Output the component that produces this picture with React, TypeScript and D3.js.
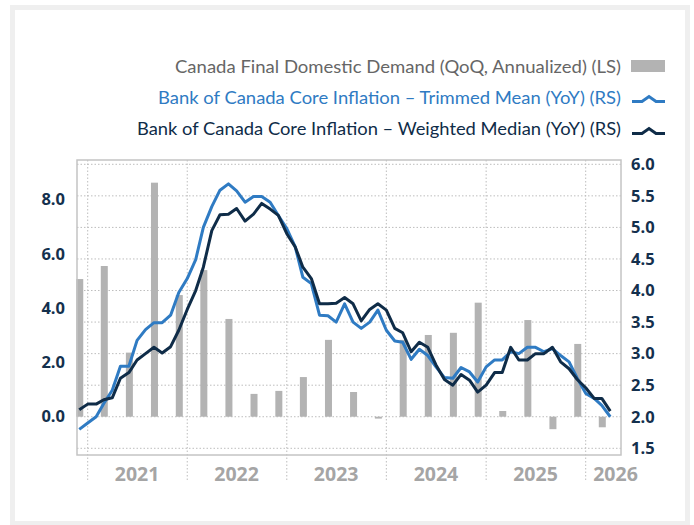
import * as d3 from "d3";

const width = 694;
const height = 525;
const plot = { left: 77, right: 621, top: 160, bottom: 455 };

// monthly points, Dec 2020 .. Apr 2026
const months = d3.timeMonth.range(new Date(2020, 11, 1), new Date(2026, 4, 1));

const trimmedMean = [
  1.8, 1.9, 2.0, 2.21, 2.42, 2.8, 2.8, 3.21, 3.38, 3.49, 3.49, 3.61, 3.97,
  4.19, 4.49, 5.0, 5.33, 5.59, 5.69, 5.58, 5.4, 5.49, 5.49, 5.4, 5.19,
  4.98, 4.69, 4.21, 4.11, 3.61, 3.6, 3.5, 3.79, 3.5, 3.4, 3.5, 3.69,
  3.37, 3.2, 3.18, 2.91, 3.07, 2.97, 2.79, 2.62, 2.61, 2.78, 2.71, 2.55,
  2.79, 2.9, 2.9, 3.03, 3.0, 3.1, 3.1, 3.03, 3.08, 2.97, 2.87, 2.61,
  2.37, 2.29, 2.18, 2.0,
];

const weightedMedian = [
  2.11, 2.2, 2.2, 2.27, 2.3, 2.61, 2.7, 2.9, 3.0, 3.1, 3.01, 3.11, 3.37,
  3.7, 4.0, 4.37, 4.95, 5.2, 5.21, 5.3, 5.1, 5.21, 5.38, 5.29, 5.19,
  4.9, 4.69, 4.37, 4.19, 3.79, 3.79, 3.8, 3.89, 3.79, 3.52, 3.7, 3.79,
  3.69, 3.4, 3.33, 3.03, 3.18, 3.1, 2.82, 2.59, 2.5, 2.67, 2.58, 2.39,
  2.5, 2.7, 2.7, 3.1, 2.9, 2.9, 3.0, 3.0, 3.1, 2.87, 2.76, 2.59,
  2.46, 2.29, 2.29, 2.09,
];

// quarterly bars, placed at the quarter's last month
const quarters = [
  "2020-12", "2021-03", "2021-06", "2021-09", "2021-12", "2022-03",
  "2022-06", "2022-09", "2022-12", "2023-03", "2023-06", "2023-09",
  "2023-12", "2024-03", "2024-06", "2024-09", "2024-12", "2025-03",
  "2025-06", "2025-09", "2025-12", "2026-03",
];
const finalDomesticDemand = [
  5.07, 5.55, 2.36, 8.62, 4.48, 5.4, 3.6, 0.84, 0.95, 1.46, 2.83, 0.91,
  -0.07, 2.83, 3.01, 3.09, 4.2, 0.21, 3.56, -0.46, 2.68, -0.39,
];

const leftTicks = [0, 2, 4, 6, 8];
const rightTicks = [1.5, 2.0, 2.5, 3.0, 3.5, 4.0, 4.5, 5.0, 5.5, 6.0];
const years = [2021, 2022, 2023, 2024, 2025, 2026];

const legendBars = "Canada Final Domestic Demand (QoQ, Annualized) (LS)";
const legendTrimmed = "Bank of Canada Core Inflation – Trimmed Mean (YoY) (RS)";
const legendMedian = "Bank of Canada Core Inflation – Weighted Median (YoY) (RS)";

const BLUE = "#2f7bc3";
const NAVY = "#0f2c48";
const BAR = "#b3b3b3";
const GRID = "#bdbdbd";

const parseMonth = d3.timeParse("%Y-%m");

export default function App() {
  const x = d3
    .scaleTime()
    .domain([new Date(2021, 0, 1), new Date(2026, 0, 1)])
    .range([87.7, 585.7]);
  const yLeft = d3.scaleLinear().domain([0, 8]).range([416.7, 199.5]);
  const yRight = d3.scaleLinear().domain([1.5, 6]).range([448.3, 164.3]);

  const line = (vals: number[]) =>
    d3
      .line<number>()
      .x((_, i) => x(months[i]))
      .y((v) => yRight(v))(vals);

  const fmt = d3.format(".1f");
  const barW = 7;

  const yearX = (yr: number) =>
    Math.min(x(new Date(yr, 6, 1)), plot.right - 5.5);

  const legendSymbol = (y: number, color: string) => (
    <path
      d={`M632,${y} L642,${y} L649,${y - 5} L656,${y} L665,${y}`}
      fill="none"
      stroke={color}
      strokeWidth={3}
    />
  );

  return (
    <svg
      width={width}
      height={height}
      style={{ position: "absolute", left: 0, top: 0, background: "#fff" }}
    >
      <rect
        x={12.5}
        y={7.5}
        width={675}
        height={516}
        fill="#fff"
        stroke="#efefef"
        strokeWidth={5}
      />

      {/* legend */}
      <g fontFamily="Lato, 'Open Sans', sans-serif" fontSize={18}>
        <text x={621} y={73} textAnchor="end" fill="#666" textLength={446} lengthAdjust="spacingAndGlyphs">
          {legendBars}
        </text>
        <rect x={631} y={60} width={34} height={12} fill={BAR} />
        <text x={621} y={104} textAnchor="end" fill={BLUE} textLength={463} lengthAdjust="spacingAndGlyphs">
          {legendTrimmed}
        </text>
        {legendSymbol(101.5, BLUE)}
        <text x={621} y={135} textAnchor="end" fill={NAVY} textLength={484} lengthAdjust="spacingAndGlyphs">
          {legendMedian}
        </text>
        {legendSymbol(133.5, NAVY)}
      </g>

      {/* horizontal grid (right scale) */}
      {rightTicks.map((t) => (
        <line
          key={"h" + t}
          x1={plot.left}
          x2={plot.right}
          y1={yRight(t)}
          y2={yRight(t)}
          stroke={GRID}
          strokeDasharray="1.5 2"
        />
      ))}
      {/* vertical grid at year boundaries */}
      {years.map((yr) => (
        <line
          key={"v" + yr}
          x1={x(new Date(yr, 0, 1))}
          x2={x(new Date(yr, 0, 1))}
          y1={plot.top}
          y2={480}
          stroke={GRID}
          strokeDasharray="1.5 2"
        />
      ))}

      {/* bars */}
      {quarters.map((q, i) => {
        const v = finalDomesticDemand[i];
        const cx = x(parseMonth(q)!);
        return (
          <rect
            key={q}
            x={cx - barW / 2 + 0.5}
            y={Math.min(yLeft(v), yLeft(0))}
            width={barW}
            height={Math.abs(yLeft(v) - yLeft(0))}
            fill={BAR}
          />
        );
      })}

      {/* lines */}
      <path
        d={line(trimmedMean) ?? ""}
        fill="none"
        stroke={BLUE}
        strokeWidth={3}
        strokeLinejoin="round"
      />
      <path
        d={line(weightedMedian) ?? ""}
        fill="none"
        stroke={NAVY}
        strokeWidth={3}
        strokeLinejoin="round"
      />

      {/* plot frame */}
      <rect
        x={plot.left}
        y={plot.top}
        width={plot.right - plot.left}
        height={plot.bottom - plot.top}
        fill="none"
        stroke="#c4c4c4"
        strokeWidth={1.5}
      />

      {/* axes */}
      <g
        fontFamily="'Open Sans', sans-serif"
        fontWeight={700}
        fontSize={16.5}
        fill="#14304d"
      >
        {leftTicks.map((t) => (
          <text key={"l" + t} x={65} y={yLeft(t)} dy="0.35em" textAnchor="end">
            {fmt(t)}
          </text>
        ))}
        {rightTicks.map((t) => (
          <text key={"r" + t} x={631} y={yRight(t)} dy="0.35em">
            {fmt(t)}
          </text>
        ))}
      </g>

      {/* year labels */}
      <g
        fontFamily="'Open Sans', sans-serif"
        fontWeight={700}
        fontSize={19.5}
        fill="#a5a5a5"
        textAnchor="middle"
      >
        {years.map((yr) => (
          <text key={"y" + yr} x={yearX(yr)} y={480.5}>
            {yr}
          </text>
        ))}
      </g>
    </svg>
  );
}
